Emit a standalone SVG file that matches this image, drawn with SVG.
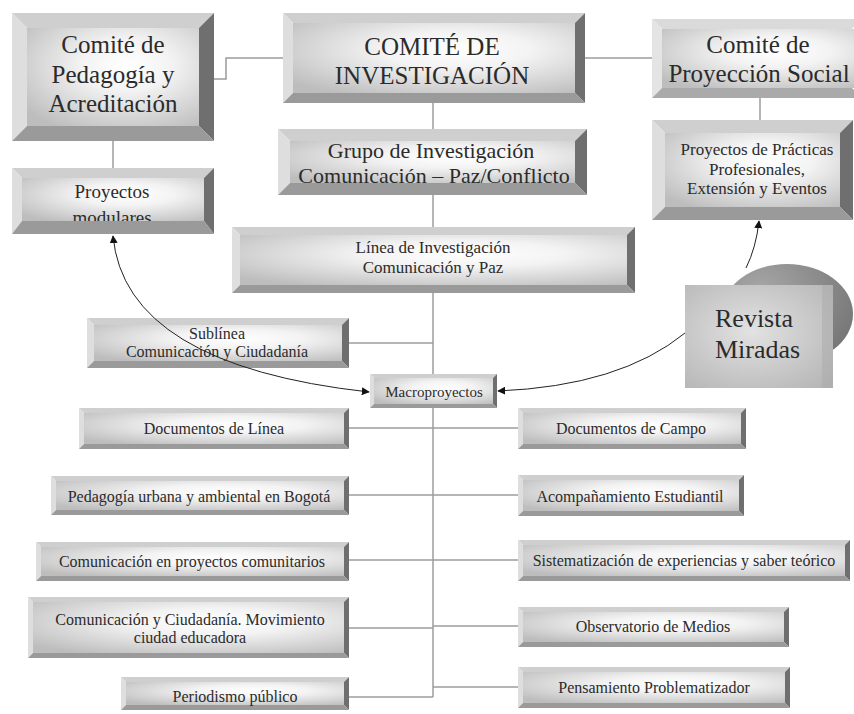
<svg xmlns="http://www.w3.org/2000/svg" width="854" height="714" viewBox="0 0 854 714">
<defs>
<radialGradient id="face" cx="58%" cy="38%" r="75%">
<stop offset="0" stop-color="#ffffff"/>
<stop offset="0.35" stop-color="#f3f3f3"/>
<stop offset="1" stop-color="#bdbdbd"/>
</radialGradient>
<radialGradient id="rev" cx="45%" cy="45%" r="75%">
<stop offset="0" stop-color="#e2e2e2"/>
<stop offset="1" stop-color="#b4b4b4"/>
</radialGradient>
<radialGradient id="ell" cx="30%" cy="25%" r="85%">
<stop offset="0" stop-color="#a6a6a6"/>
<stop offset="1" stop-color="#747474"/>
</radialGradient>
<marker id="ah" viewBox="0 0 10 10" refX="9" refY="5" markerWidth="8" markerHeight="8" markerUnits="userSpaceOnUse" orient="auto-start-reverse">
<path d="M0,0 L10,5 L0,10 z" fill="#111"/>
</marker>
<style>
.t{fill:#cfcfcf}.l{fill:#dedede}.r{fill:#6f6f6f}.b{fill:#9a9a9a}
.f{fill:url(#face)}
.ln{stroke:#9c9c9c;stroke-width:1.5;fill:none}
.ar{stroke:#222;stroke-width:1;fill:none;marker-end:url(#ah)}
.tx{font-family:"Liberation Serif","Times New Roman",serif;fill:#2b2b2b;text-anchor:middle}
</style>
</defs>
<rect width="854" height="714" fill="#ffffff"/>

<g id="connectors">
<polyline class="ln" points="214,79 226,79 226,58 283,58"/>
<line class="ln" x1="585" y1="58" x2="652" y2="58"/>
<line class="ln" x1="760" y1="98" x2="760" y2="120"/>
<line class="ln" x1="113" y1="141" x2="113" y2="168"/>
<line class="ln" x1="433" y1="103" x2="433" y2="697"/>
<line class="ln" x1="349" y1="343" x2="433" y2="343"/>
<line class="ln" x1="349" y1="428" x2="518" y2="428"/>
<line class="ln" x1="349" y1="495" x2="518" y2="495"/>
<line class="ln" x1="349" y1="560" x2="518" y2="560"/>
<line class="ln" x1="349" y1="628" x2="433" y2="628"/>
<line class="ln" x1="433" y1="626" x2="518" y2="626"/>
<line class="ln" x1="349" y1="697" x2="433" y2="697"/>
<line class="ln" x1="433" y1="687" x2="518" y2="687"/>
</g>

<g id="n-pedagogia">
<polygon class="t" points="12,13 214,13 199,28 27,28"/>
<polygon class="l" points="12,13 27,28 27,126 12,141"/>
<polygon class="r" points="214,13 214,141 199,126 199,28"/>
<polygon class="b" points="12,141 214,141 199,126 27,126"/>
<rect class="f" x="27" y="28" width="172" height="98"/>
<text class="tx" font-size="25" x="113" y="53">Comité de</text>
<text class="tx" font-size="25" x="113" y="83">Pedagogía y</text>
<text class="tx" font-size="25" x="113" y="112">Acreditación</text>
</g>

<g id="n-comite">
<polygon class="t" points="283,13 585,13 575,23 293,23"/>
<polygon class="l" points="283,13 293,23 293,93 283,103"/>
<polygon class="r" points="585,13 585,103 575,93 575,23"/>
<polygon class="b" points="283,103 585,103 575,93 293,93"/>
<rect class="f" x="293" y="23" width="282" height="70"/>
<text class="tx" font-size="25" x="432" y="55">COMITÉ DE</text>
<text class="tx" font-size="25" x="432" y="84">INVESTIGACIÓN</text>
</g>

<g id="n-proyeccion">
<polygon fill="#dadada" points="652,19 862,19 852,29 662,29"/>
<polygon fill="#e4e4e4" points="652,19 662,29 662,88 652,98"/>
<polygon fill="#aaaaaa" points="652,98 862,98 852,88 662,88"/>
<rect class="f" x="662" y="29" width="200" height="59"/>
<text class="tx" font-size="25" x="758" y="53">Comité de</text>
<text class="tx" font-size="25" x="759" y="82">Proyección Social</text>
</g>

<g id="n-grupo">
<polygon class="t" points="278,129 587,129 575,141 290,141"/>
<polygon class="l" points="278,129 290,141 290,183 278,195"/>
<polygon class="r" points="587,129 587,195 575,183 575,141"/>
<polygon class="b" points="278,195 587,195 575,183 290,183"/>
<rect class="f" x="290" y="141" width="285" height="42"/>
<text class="tx" font-size="22" x="431" y="158">Grupo de Investigación</text>
<text class="tx" font-size="22" x="434" y="183">Comunicación – Paz/Conflicto</text>
</g>

<g id="n-practicas">
<polygon class="t" points="652,120 853,120 840,133 665,133"/>
<polygon class="l" points="652,120 665,133 665,207 652,220"/>
<polygon class="r" points="853,120 853,220 840,207 840,133"/>
<polygon class="b" points="652,220 853,220 840,207 665,207"/>
<rect class="f" x="665" y="133" width="175" height="74"/>
<text class="tx" font-size="17" x="757" y="155">Proyectos de Prácticas</text>
<text class="tx" font-size="17" x="757" y="175">Profesionales,</text>
<text class="tx" font-size="17" x="757" y="194">Extensión y Eventos</text>
</g>

<g id="n-modulares">
<polygon class="t" points="12,168 214,168 204,178 22,178"/>
<polygon class="l" points="12,168 22,178 22,221 12,234"/>
<polygon class="r" points="214,168 214,234 204,221 204,178"/>
<rect class="f" x="22" y="178" width="182" height="43"/>
<text class="tx" font-size="19" x="112" y="198">Proyectos</text>
<text class="tx" font-size="19" x="112" y="224">modulares</text>
<polygon class="b" points="12,234 214,234 204,221 22,221"/>
</g>

<g id="n-linea">
<polygon class="t" points="232,227 635,227 627,235 240,235"/>
<polygon class="l" points="232,227 240,235 240,285 232,293"/>
<polygon class="r" points="635,227 635,293 627,285 627,235"/>
<polygon class="b" points="232,293 635,293 627,285 240,285"/>
<rect class="f" x="240" y="235" width="387" height="50"/>
<text class="tx" font-size="17" x="433" y="253">Línea de Investigación</text>
<text class="tx" font-size="17" x="433" y="273">Comunicación y Paz</text>
</g>

<g id="n-sublinea">
<polygon class="t" points="87,318 349,318 342,325 94,325"/>
<polygon class="l" points="87,318 94,325 94,361 87,368"/>
<polygon class="r" points="349,318 349,368 342,361 342,325"/>
<polygon class="b" points="87,368 349,368 342,361 94,361"/>
<rect class="f" x="94" y="325" width="248" height="36"/>
<text class="tx" font-size="16" x="217" y="339">Sublínea</text>
<text class="tx" font-size="16" x="217" y="357">Comunicación y Ciudadanía</text>
</g>

<g id="n-macro">
<polygon class="t" points="370,374 497,374 493,378 374,378"/>
<polygon class="l" points="370,374 374,378 374,404 370,408"/>
<polygon class="r" points="497,374 497,408 493,404 493,378"/>
<polygon class="b" points="370,408 497,408 493,404 374,404"/>
<rect class="f" x="374" y="378" width="119" height="26"/>
<text class="tx" font-size="15" x="434" y="397">Macroproyectos</text>
</g>

<g id="n-revista">
<ellipse cx="787" cy="314" rx="66" ry="50" fill="url(#ell)"/>
<rect x="685" y="285" width="148" height="103" fill="url(#rev)"/>
<rect x="822" y="285" width="11" height="103" fill="#a9a9a9" opacity="0.5"/>
<text class="tx" font-size="26" x="715" y="327" text-anchor="start" style="text-anchor:start">Revista</text>
<text class="tx" font-size="26" x="715" y="358" text-anchor="start" style="text-anchor:start">Miradas</text>
</g>

<g id="n-doclinea">
<polygon class="t" points="79,408 349,408 344,413 84,413"/>
<polygon class="l" points="79,408 84,413 84,444 79,449"/>
<polygon class="r" points="349,408 349,449 344,444 344,413"/>
<polygon class="b" points="79,449 349,449 344,444 84,444"/>
<rect class="f" x="84" y="413" width="260" height="31"/>
<text class="tx" font-size="16" x="214" y="434">Documentos de Línea</text>
</g>

<g id="n-pedurbana">
<polygon class="t" points="51,476 349,476 344,481 56,481"/>
<polygon class="l" points="51,476 56,481 56,510 51,515"/>
<polygon class="r" points="349,476 349,515 344,510 344,481"/>
<polygon class="b" points="51,515 349,515 344,510 56,510"/>
<rect class="f" x="56" y="481" width="288" height="29"/>
<text class="tx" font-size="16" x="199" y="502">Pedagogía urbana y ambiental en Bogotá</text>
</g>

<g id="n-comproy">
<polygon class="t" points="36,542 349,542 344,547 41,547"/>
<polygon class="l" points="36,542 41,547 41,576 36,581"/>
<polygon class="r" points="349,542 349,581 344,576 344,547"/>
<polygon class="b" points="36,581 349,581 344,576 41,576"/>
<rect class="f" x="41" y="547" width="303" height="29"/>
<text class="tx" font-size="16" x="192" y="567">Comunicación en proyectos comunitarios</text>
</g>

<g id="n-comciud">
<polygon class="t" points="28,597 349,597 344,602 33,602"/>
<polygon class="l" points="28,597 33,602 33,653 28,658"/>
<polygon class="r" points="349,597 349,658 344,653 344,602"/>
<polygon class="b" points="28,658 349,658 344,653 33,653"/>
<rect class="f" x="33" y="602" width="311" height="51"/>
<text class="tx" font-size="16" x="190" y="625">Comunicación y Ciudadanía. Movimiento</text>
<text class="tx" font-size="16" x="190" y="643">ciudad educadora</text>
</g>

<g id="n-periodismo">
<polygon class="t" points="121,677 349,677 344,682 126,682"/>
<polygon class="l" points="121,677 126,682 126,705 121,710"/>
<polygon class="r" points="349,677 349,710 344,705 344,682"/>
<polygon class="b" points="121,710 349,710 344,705 126,705"/>
<rect class="f" x="126" y="682" width="218" height="23"/>
<text class="tx" font-size="16" x="235" y="702">Periodismo público</text>
</g>

<g id="n-doccampo">
<polygon class="t" points="518,408 746,408 741,413 523,413"/>
<polygon class="l" points="518,408 523,413 523,444 518,449"/>
<polygon class="r" points="746,408 746,449 741,444 741,413"/>
<polygon class="b" points="518,449 746,449 741,444 523,444"/>
<rect class="f" x="523" y="413" width="218" height="31"/>
<text class="tx" font-size="16" x="631" y="434">Documentos de Campo</text>
</g>

<g id="n-acomp">
<polygon class="t" points="518,475 744,475 739,480 523,480"/>
<polygon class="l" points="518,475 523,480 523,511 518,516"/>
<polygon class="r" points="744,475 744,516 739,511 739,480"/>
<polygon class="b" points="518,516 744,516 739,511 523,511"/>
<rect class="f" x="523" y="480" width="216" height="31"/>
<text class="tx" font-size="16" x="630" y="502">Acompañamiento Estudiantil</text>
</g>

<g id="n-sistem">
<polygon class="t" points="518,540 850,540 845,545 523,545"/>
<polygon class="l" points="518,540 523,545 523,576 518,581"/>
<polygon class="r" points="850,540 850,581 845,576 845,545"/>
<polygon class="b" points="518,581 850,581 845,576 523,576"/>
<rect class="f" x="523" y="545" width="322" height="31"/>
<text class="tx" font-size="16" x="684" y="566">Sistematización de experiencias y saber teórico</text>
</g>

<g id="n-observ">
<polygon class="t" points="518,607 789,607 784,612 523,612"/>
<polygon class="l" points="518,607 523,612 523,642 518,647"/>
<polygon class="r" points="789,607 789,647 784,642 784,612"/>
<polygon class="b" points="518,647 789,647 784,642 523,642"/>
<rect class="f" x="523" y="612" width="261" height="30"/>
<text class="tx" font-size="16" x="653" y="632">Observatorio de Medios</text>
</g>

<g id="n-pensam">
<polygon class="t" points="518,667 790,667 785,672 523,672"/>
<polygon class="l" points="518,667 523,672 523,703 518,708"/>
<polygon class="r" points="790,667 790,708 785,703 785,672"/>
<polygon class="b" points="518,708 790,708 785,703 523,703"/>
<rect class="f" x="523" y="672" width="262" height="31"/>
<text class="tx" font-size="16" x="654" y="693">Pensamiento Problematizador</text>
</g>

<g id="arrows">
<path class="ar" d="M113,236 Q125,365 369,392" marker-start="url(#ah)"/>
<path class="ar" d="M685,333 Q620,386 498,391"/>
<path class="ar" d="M746,268 Q756,248 759,221"/>
</g>
</svg>
